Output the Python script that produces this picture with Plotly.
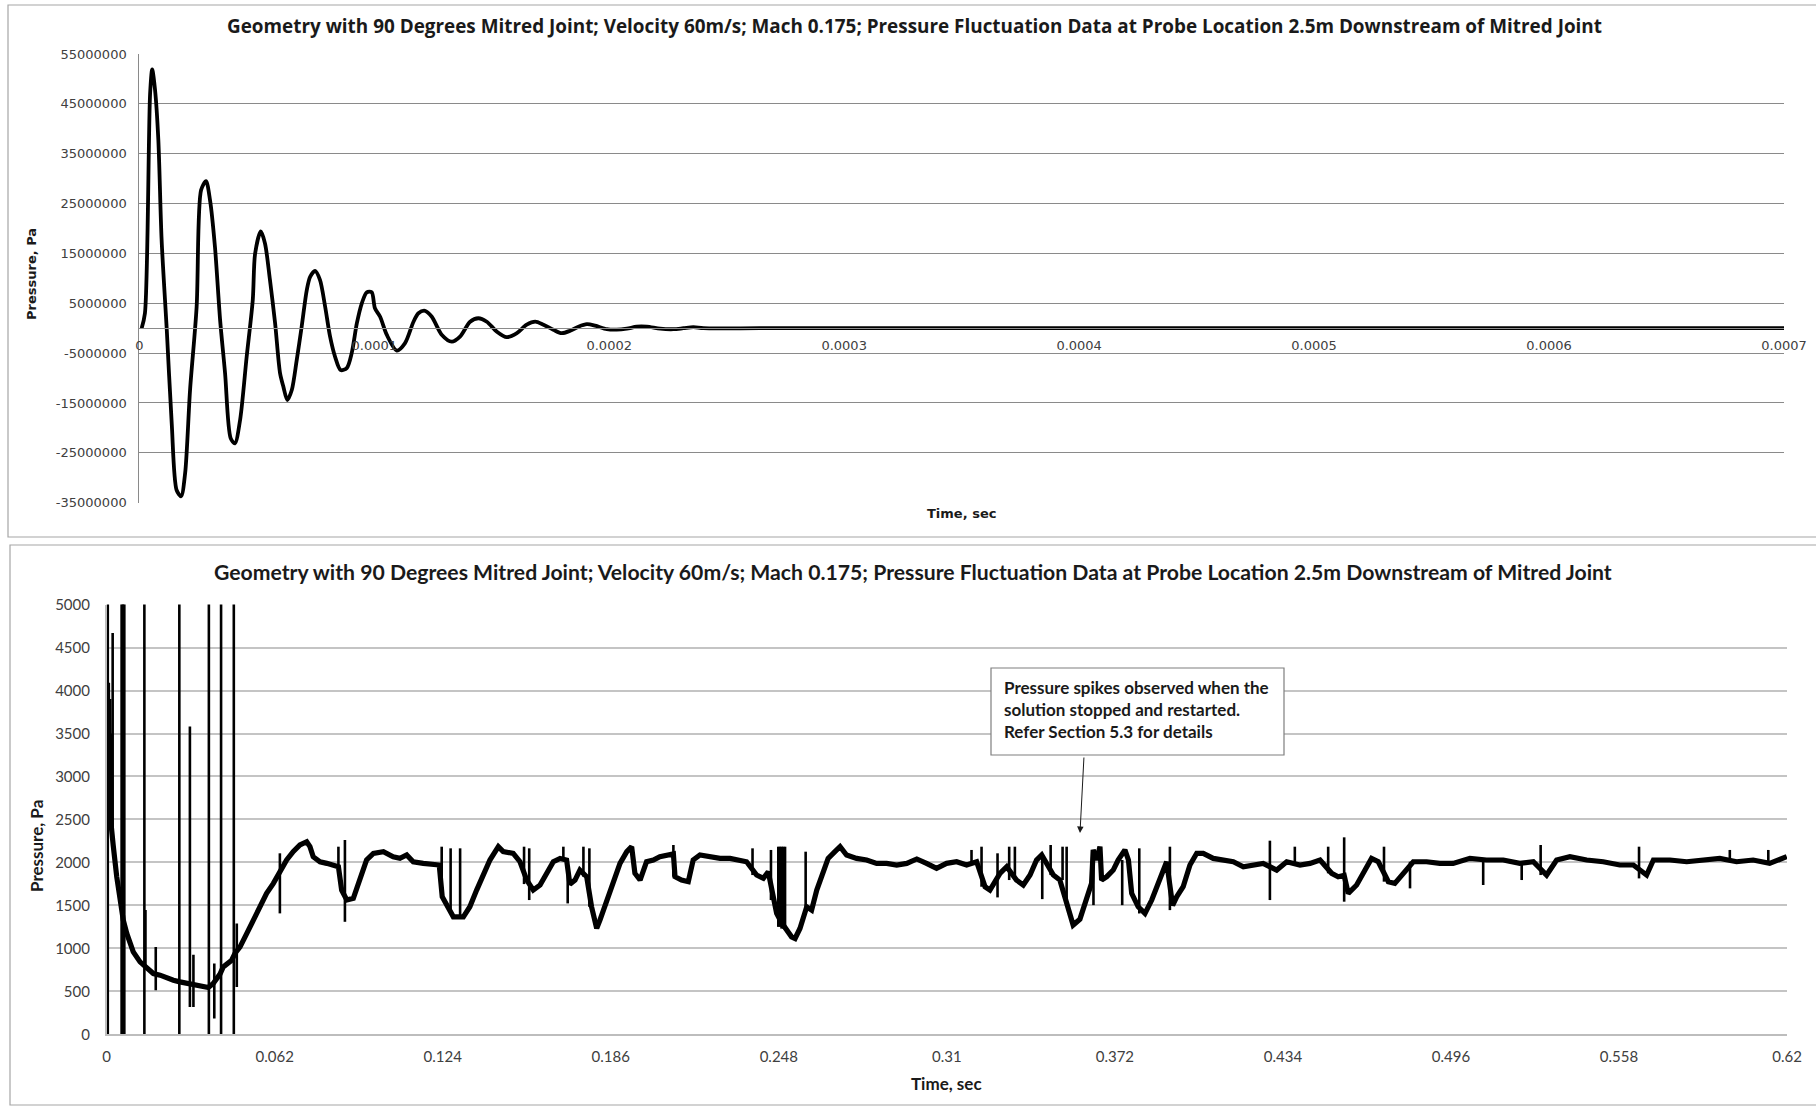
import plotly.graph_objects as go

W, H = 1816, 1107

# ---------------- data: early transient (top panel) ----------------
top_time_s = [
    1.0e-6, 2.4e-6, 4.6e-6, 5.5e-6, 6.7e-6, 8.1e-6, 9.5e-6, 11.7e-6, 13.8e-6, 15.9e-6,
    17.8e-6, 19.5e-6, 21.6e-6, 24.4e-6, 26.3e-6, 28.4e-6, 30.1e-6, 32.2e-6, 34.4e-6, 36.5e-6,
    38.9e-6, 40.7e-6, 42.9e-6, 45.7e-6, 48.3e-6, 49.3e-6, 51.7e-6, 53.5e-6, 55.6e-6, 57.8e-6,
    59.9e-6, 61.3e-6, 63.0e-6, 64.9e-6, 67.0e-6, 69.1e-6, 71.3e-6, 72.7e-6, 74.8e-6, 76.9e-6,
    79.1e-6, 81.2e-6, 83.3e-6, 85.7e-6, 88.3e-6, 90.4e-6, 92.6e-6, 94.7e-6, 96.8e-6, 98.9e-6,
    100.3e-6, 102.5e-6, 105.3e-6, 109.6e-6, 113.1e-6, 116.7e-6, 118.8e-6, 121.6e-6, 124.5e-6, 128.7e-6,
    133.0e-6, 136.5e-6, 140.8e-6, 144.3e-6, 147.9e-6, 152.2e-6, 156.4e-6, 160.7e-6, 164.9e-6, 168.5e-6,
    172.0e-6, 176.2e-6, 179.8e-6, 183.4e-6, 186.9e-6, 190.5e-6, 194.0e-6, 199.0e-6, 203.2e-6, 207.5e-6,
    211.7e-6, 216.0e-6, 221.7e-6, 227.3e-6, 231.6e-6, 235.8e-6, 240.1e-6, 264.0e-6, 300.0e-6, 400.0e-6,
    500.0e-6, 600.0e-6, 700.0e-6,
]
top_pressure_pa = [
    0.0e6, 3.0e6, 47.1e6, 51.9e6, 47.8e6, 37.8e6, 17.7e6, -0.4e6, -19.1e6, -32.5e6,
    -33.7e6, -29.1e6, -12.4e6, 4.3e6, 27.7e6, 29.5e6, 25.7e6, 16.3e6, 1.6e6, -9.0e6,
    -22.1e6, -23.1e6, -18.4e6, -5.7e6, 5.7e6, 15.0e6, 19.4e6, 17.0e6, 9.7e6, 1.0e6,
    -9.0e6, -11.7e6, -14.4e6, -12.4e6, -6.4e6, 0.3e6, 7.7e6, 10.3e6, 11.5e6, 9.7e6,
    4.3e6, -1.7e6, -5.7e6, -8.4e6, -8.0e6, -5.0e6, 1.0e6, 5.0e6, 7.2e6, 7.2e6,
    4.0e6, 2.3e6, -1.3e6, -4.5e6, -3.0e6, 1.3e6, 3.0e6, 3.5e6, 2.3e6, -1.3e6,
    -2.7e6, -1.7e6, 1.3e6, 2.0e6, 1.3e6, -0.7e6, -1.8e6, -1.0e6, 0.7e6, 1.3e6,
    0.7e6, -0.3e6, -1.0e6, -0.5e6, 0.3e6, 0.8e6, 0.5e6, -0.2e6, -0.3e6, -0.1e6,
    0.3e6, 0.3e6, -0.1e6, -0.2e6, 0.0e6, 0.2e6, 0.0e6, 0.0e6, 0.0e6, 0.0e6,
    0.0e6, 0.0e6, 0.0e6,
]
top_xtick_vals = [0, 0.0001, 0.0002, 0.0003, 0.0004, 0.0005, 0.0006, 0.0007]
top_xtick_text = ["0", "0.0001", "0.0002", "0.0003", "0.0004", "0.0005", "0.0006", "0.0007"]
top_ytick_vals = [-35000000, -25000000, -15000000, -5000000, 5000000, 15000000,
                  25000000, 35000000, 45000000, 55000000]
top_ytick_text = ["-35000000", "-25000000", "-15000000", "-5000000", "5000000", "15000000",
                  "25000000", "35000000", "45000000", "55000000"]

# ---------------- data: long run (bottom panel) ----------------
bottom_time_s = [
    0.0003, 0.0005, 0.0008, 0.0010, 0.0013, 0.0016, 0.0019, 0.0024, 0.0037, 0.0049,
    0.0061, 0.0074, 0.0086, 0.0098, 0.0123, 0.0148, 0.0172, 0.0197, 0.0221, 0.0246,
    0.0270, 0.0295, 0.0320, 0.0344, 0.0375, 0.0393, 0.0406, 0.0418, 0.0430, 0.0443,
    0.0461, 0.0473, 0.0492, 0.0517, 0.0541, 0.0566, 0.0590, 0.0615, 0.0639, 0.0664,
    0.0688, 0.0713, 0.0738, 0.0750, 0.0762, 0.0787, 0.0812, 0.0836, 0.0855, 0.0867,
    0.0886, 0.0910, 0.0935, 0.0959, 0.0984, 0.1021, 0.1057, 0.1082, 0.1107, 0.1131,
    0.1168, 0.1205, 0.1227, 0.1238, 0.1254, 0.1279, 0.1316, 0.1340, 0.1365, 0.1390,
    0.1414, 0.1445, 0.1463, 0.1500, 0.1525, 0.1550, 0.1574, 0.1599, 0.1623, 0.1648,
    0.1673, 0.1697, 0.1709, 0.1728, 0.1746, 0.1771, 0.1789, 0.1808, 0.1820, 0.1845,
    0.1869, 0.1894, 0.1919, 0.1937, 0.1949, 0.1968, 0.1992, 0.2017, 0.2041, 0.2066,
    0.2091, 0.2097, 0.2121, 0.2146, 0.2164, 0.2189, 0.2226, 0.2263, 0.2300, 0.2337,
    0.2361, 0.2398, 0.2423, 0.2441, 0.2459, 0.2472, 0.2490, 0.2509, 0.2527, 0.2540,
    0.2558, 0.2583, 0.2601, 0.2620, 0.2644, 0.2662, 0.2687, 0.2706, 0.2730, 0.2767,
    0.2804, 0.2841, 0.2878, 0.2915, 0.2952, 0.2989, 0.3025, 0.3062, 0.3099, 0.3136,
    0.3173, 0.3210, 0.3241, 0.3259, 0.3296, 0.3321, 0.3357, 0.3382, 0.3407, 0.3431,
    0.3450, 0.3468, 0.3493, 0.3517, 0.3548, 0.3566, 0.3591, 0.3616, 0.3634, 0.3640,
    0.3653, 0.3665, 0.3671, 0.3690, 0.3714, 0.3732, 0.3757, 0.3770, 0.3782, 0.3806,
    0.3831, 0.3856, 0.3886, 0.3911, 0.3933, 0.3948, 0.3972, 0.3997, 0.4022, 0.4046,
    0.4083, 0.4120, 0.4157, 0.4194, 0.4231, 0.4267, 0.4317, 0.4354, 0.4403, 0.4440,
    0.4477, 0.4520, 0.4544, 0.4566, 0.4581, 0.4612, 0.4643, 0.4667, 0.4692, 0.4729,
    0.4753, 0.4784, 0.4821, 0.4870, 0.4919, 0.4968, 0.5030, 0.5091, 0.5153, 0.5214,
    0.5264, 0.5313, 0.5350, 0.5399, 0.5461, 0.5522, 0.5583, 0.5633, 0.5682, 0.5707,
    0.5768, 0.5830, 0.5891, 0.5952, 0.6014, 0.6075, 0.6136, 0.6199,
]
bottom_pressure_pa = [
    4090, 2530, 3900, 2500, 3500, 2450, 2300, 2200, 1833, 1562,
    1330, 1174, 1057, 959, 843, 766, 707, 688, 656, 629,
    610, 591, 571, 559, 544, 591, 649, 700, 784, 824,
    862, 940, 1017, 1174, 1329, 1484, 1640, 1756, 1900, 2028,
    2125, 2203, 2241, 2183, 2066, 2008, 1989, 1970, 1950, 1678,
    1562, 1582, 1795, 2028, 2106, 2125, 2066, 2048, 2086, 2008,
    1989, 1970, 1970, 1600, 1503, 1367, 1367, 1484, 1678, 1873,
    2028, 2183, 2125, 2106, 2008, 1795, 1678, 1737, 1873, 2008,
    2047, 2028, 1748, 1795, 1911, 1834, 1484, 1232, 1329, 1562,
    1748, 1989, 2125, 2183, 1873, 1795, 2008, 2028, 2067, 2086,
    2100, 1834, 1795, 1776, 2028, 2086, 2067, 2047, 2047, 2028,
    2008, 1853, 1815, 1892, 1562, 1406, 1300, 1212, 1134, 1115,
    1232, 1484, 1445, 1678, 1873, 2047, 2125, 2183, 2086, 2047,
    2028, 1989, 1989, 1970, 1989, 2040, 1989, 1931, 1989, 2008,
    1970, 2008, 1717, 1678, 1873, 1950, 1795, 1737, 1853, 2028,
    2086, 1989, 1853, 1795, 1484, 1271, 1340, 1600, 1756, 2145,
    2028, 2183, 1795, 1834, 1911, 2028, 2145, 2028, 1640, 1484,
    1406, 1562, 1795, 2008, 1500, 1600, 1717, 1970, 2106, 2106,
    2047, 2028, 2008, 1950, 1970, 1989, 1911, 2008, 1970, 1989,
    2028, 1873, 1834, 1850, 1640, 1737, 1911, 2047, 2008, 1776,
    1756, 1873, 2008, 2008, 1989, 1989, 2047, 2028, 2028, 1989,
    2008, 1853, 2028, 2067, 2028, 2008, 1970, 1970, 1853, 2028,
    2028, 2008, 2028, 2047, 2008, 2028, 1989, 2067,
]

# Solver stop/restart spikes: (time, low, high). Values beyond the axis are clipped.
spike_time_s = [
    0.0004, 0.0022, 0.0055, 0.0060, 0.0065, 0.0139, 0.0143, 0.0181, 0.0268, 0.0307,
    0.0320, 0.0377, 0.0397, 0.0422, 0.0469, 0.0480, 0.0639, 0.0855, 0.0879, 0.1236,
    0.1269, 0.1304, 0.1540, 0.1559, 0.1685, 0.1701, 0.1759, 0.1781, 0.2091, 0.2383,
    0.2451, 0.2478, 0.2484, 0.2490, 0.2496, 0.2503, 0.2579, 0.3191, 0.3228, 0.3287,
    0.3330, 0.3351, 0.3452, 0.3483, 0.3527, 0.3542, 0.3641, 0.3747, 0.3810, 0.3923,
    0.4292, 0.4384, 0.4507, 0.4566, 0.4713, 0.4809, 0.5079, 0.5221, 0.5291, 0.5654,
    0.5989, 0.6131,
]
spike_low_pa = [
    -40000, 2300, -40000, -40000, -40000, -40000, 785, 513, -40000, 318,
    318, -40000, 183, -40000, -40000, 551, 1407, 1873, 1309, 1600,
    1400, 1367, 1748, 1562, 2028, 1523, 1834, 1484, 1834, 1853,
    1562, 1250, 1250, 1230, 1230, 1212, 1484, 1970, 1717, 1593,
    1795, 1795, 1573, 1853, 1795, 1484, 1503, 1503, 1406, 1445,
    1562, 1970, 1873, 1543, 1776, 1698, 1737, 1795, 1853, 1814,
    2008, 1989,
]
spike_high_pa = [
    60000, 4670, 60000, 60000, 60000, 60000, 1445, 1017, 60000, 3582,
    926, 60000, 824, 60000, 60000, 1290, 2106, 2183, 2261, 2183,
    2164, 2164, 2183, 2164, 2183, 2028, 2183, 2164, 2203, 2164,
    2145, 2183, 2183, 2183, 2183, 2183, 2125, 2145, 2183, 2106,
    2183, 2183, 2086, 2203, 2183, 2183, 2145, 2028, 2164, 2183,
    2253, 2183, 2183, 2292, 2183, 2008, 2028, 1989, 2203, 2183,
    2145, 2145,
]
bottom_xtick_vals = [0, 0.062, 0.124, 0.186, 0.248, 0.31, 0.372, 0.434, 0.496, 0.558, 0.62]
bottom_xtick_text = ["0", "0.062", "0.124", "0.186", "0.248", "0.31", "0.372",
                     "0.434", "0.496", "0.558", "0.62"]
bottom_ytick_vals = [0, 500, 1000, 1500, 2000, 2500, 3000, 3500, 4000, 4500, 5000]

chart_title = ("Geometry with 90 Degrees Mitred Joint; Velocity 60m/s; Mach 0.175; "
               "Pressure Fluctuation Data at Probe Location 2.5m Downstream of Mitred Joint")
note_lines = ["Pressure spikes observed when the",
              "solution stopped and restarted.",
              "Refer Section 5.3 for details"]


def fx(px):
    return px / W


def fy(py):
    return 1 - py / H


# plot-area pixel boxes
TOP_L, TOP_R, TOP_T, TOP_B = 139.3, 1784.0, 54.0, 502.7
BOT_L, BOT_R, BOT_T, BOT_B = 106.7, 1787.0, 604.6, 1034.3

top_yrange = [-35000000, 55000000]
zero_frac = fy(TOP_B) + (0 - top_yrange[0]) / (top_yrange[1] - top_yrange[0]) * (fy(TOP_T) - fy(TOP_B))

# vertical segments for the restart spikes
spike_x, spike_y = [], []
for t, lo, hi in zip(spike_time_s, spike_low_pa, spike_high_pa):
    spike_x += [t, t, None]
    spike_y += [lo, hi, None]

fig = go.Figure()
fig.add_trace(go.Scatter(
    x=top_time_s, y=top_pressure_pa, mode="lines",
    line=dict(color="black", width=3.8, shape="spline", smoothing=0.8),
    xaxis="x", yaxis="y", showlegend=False, hoverinfo="skip",
))
fig.add_trace(go.Scatter(
    x=bottom_time_s, y=bottom_pressure_pa, mode="lines",
    line=dict(color="black", width=5.2),
    xaxis="x2", yaxis="y2", showlegend=False, hoverinfo="skip",
))
fig.add_trace(go.Scatter(
    x=spike_x, y=spike_y, mode="lines",
    line=dict(color="black", width=2.6),
    xaxis="x2", yaxis="y2", showlegend=False, hoverinfo="skip",
))

top_tick_font = dict(family="DejaVu Sans", size=13, color="#404040")
bot_tick_font = dict(family="Lato", size=15, color="#404040")

fig.update_layout(
    template="none",
    width=W, height=H, margin=dict(l=0, r=0, t=0, b=0, pad=0, autoexpand=False),
    paper_bgcolor="white", plot_bgcolor="white", showlegend=False,
    xaxis=dict(
        domain=[fx(TOP_L), fx(TOP_R)], range=[0, 0.0007], anchor="free", position=zero_frac,
        tickvals=top_xtick_vals, ticktext=top_xtick_text, tickfont=top_tick_font,
        showgrid=False, zeroline=False, showline=True, linecolor="#8a8a8a", linewidth=1,
        ticks="", ticklabelstandoff=5, automargin=False,
    ),
    yaxis=dict(
        domain=[fy(TOP_B), fy(TOP_T)], range=top_yrange, anchor="x",
        tickvals=top_ytick_vals, ticktext=top_ytick_text, tickfont=top_tick_font,
        showgrid=True, gridcolor="#8a8a8a", gridwidth=1, zeroline=False,
        showline=True, linecolor="#8a8a8a", linewidth=1, ticks="", ticklabelstandoff=9,
        automargin=False,
    ),
    xaxis2=dict(
        domain=[fx(BOT_L), fx(BOT_R)], range=[0, 0.62], anchor="y2",
        tickvals=bottom_xtick_vals, ticktext=bottom_xtick_text, tickfont=bot_tick_font,
        showgrid=False, zeroline=False, showline=True, linecolor="#bdbdbd", linewidth=1.5,
        ticks="", ticklabelstandoff=8, automargin=False,
    ),
    yaxis2=dict(
        domain=[fy(BOT_B), fy(BOT_T)], range=[0, 5000], anchor="x2",
        tickvals=bottom_ytick_vals, tickfont=bot_tick_font,
        showgrid=True, gridcolor="#c4c4c4", gridwidth=1.5, zeroline=False,
        showline=True, linecolor="#bdbdbd", linewidth=1.5, ticks="", ticklabelstandoff=12,
        automargin=False,
    ),
)

shapes = [
    # chart-area frames
    dict(type="rect", xref="paper", yref="paper", x0=fx(8), x1=1.02, y0=fy(537), y1=fy(5),
         line=dict(color="#a6a6a6", width=1.2), fillcolor="rgba(0,0,0,0)", layer="below"),
    dict(type="rect", xref="paper", yref="paper", x0=fx(10), x1=1.02, y0=fy(1105), y1=fy(545),
         line=dict(color="#a6a6a6", width=1.2), fillcolor="rgba(0,0,0,0)", layer="below"),
    # call-out box
    dict(type="rect", xref="paper", yref="paper", x0=fx(991), x1=fx(1284), y0=fy(755), y1=fy(668),
         line=dict(color="#7f7f7f", width=1.2), fillcolor="white", layer="above"),
]
fig.update_layout(shapes=shapes)

annotations = [
    dict(text=chart_title, x=fx(915), y=fy(26), xref="paper", yref="paper",
         showarrow=False, xanchor="center", yanchor="middle",
         font=dict(family="Open Sans", size=18.9, color="#1a1a1a", weight="bold")),
    dict(text="Time, sec", x=fx(961), y=fy(513), xref="paper", yref="paper",
         showarrow=False, xanchor="center", yanchor="middle",
         font=dict(family="DejaVu Sans", size=13, color="#1a1a1a", weight="bold")),
    dict(text="Pressure, Pa", x=fx(32), y=fy(274), xref="paper", yref="paper",
         showarrow=False, xanchor="center", yanchor="middle", textangle=-90,
         font=dict(family="DejaVu Sans", size=13, color="#1a1a1a", weight="bold")),
    dict(text=chart_title, x=fx(913), y=fy(572), xref="paper", yref="paper",
         showarrow=False, xanchor="center", yanchor="middle",
         font=dict(family="Lato", size=21.2, color="#1a1a1a", weight="bold")),
    dict(text="Time, sec", x=fx(946), y=fy(1083), xref="paper", yref="paper",
         showarrow=False, xanchor="center", yanchor="middle",
         font=dict(family="Lato", size=17, color="#1a1a1a", weight="bold")),
    dict(text="Pressure, Pa", x=fx(36), y=fy(846), xref="paper", yref="paper",
         showarrow=False, xanchor="center", yanchor="middle", textangle=-90,
         font=dict(family="Lato", size=17, color="#1a1a1a", weight="bold")),
    dict(text="<br>".join(note_lines), x=fx(1002), y=fy(675), xref="paper", yref="paper",
         showarrow=False, xanchor="left", yanchor="top", align="left",
         font=dict(family="Lato", size=17, color="#1a1a1a", weight="bold")),
    # pointer from the call-out down to the restart event
    dict(text="", x=fx(1080), y=fy(833), xref="paper", yref="paper",
         ax=4, ay=-77, axref="pixel", ayref="pixel",
         showarrow=True, arrowhead=2, arrowsize=1.3, arrowwidth=1, arrowcolor="#1a1a1a"),
]
fig.update_layout(annotations=annotations)

# page body without the browser's default margin so the figure fills the window exactly
fig.write_html(
    "out.html",
    post_script="document.body.style.margin='0px';document.body.style.overflow='hidden';",
)
